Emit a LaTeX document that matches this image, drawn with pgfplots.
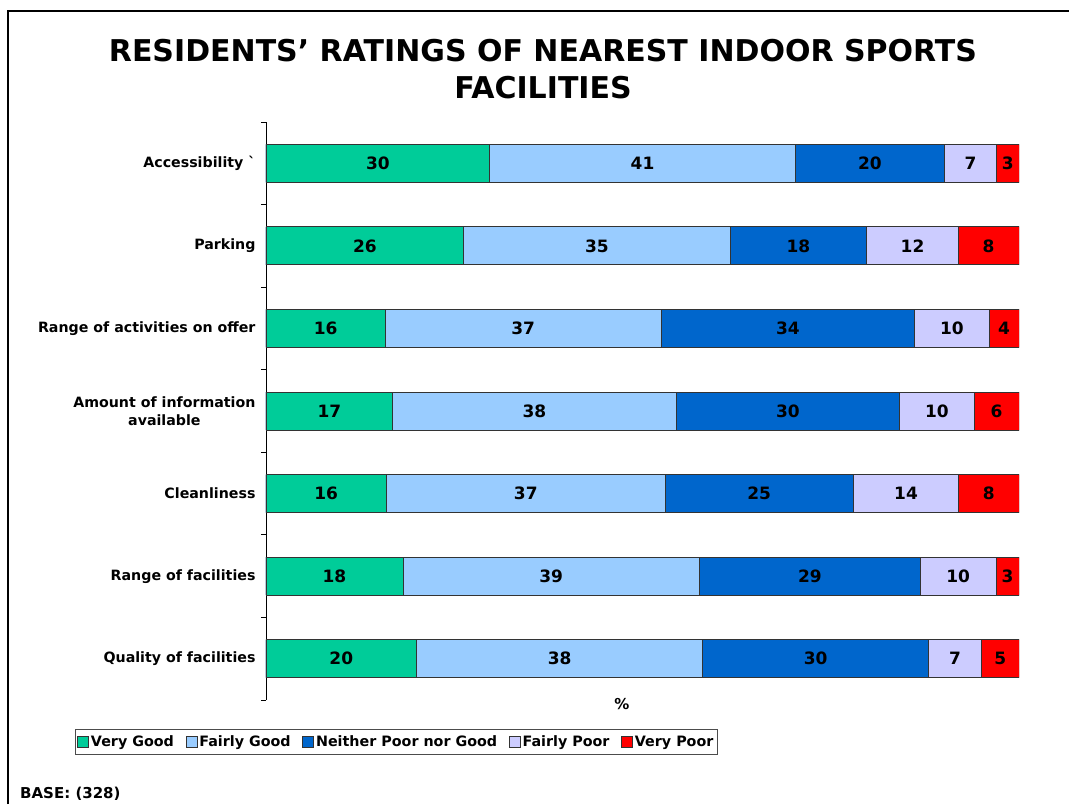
\documentclass[border=0pt]{standalone}
\usepackage{fontspec}
\setmainfont{DejaVu Sans}
\usepackage{pgfplots}
\usepackage{pgfplotstable}
\pgfplotsset{compat=1.18}
\definecolor{vgood}{HTML}{00CC99}
\definecolor{fgood}{HTML}{99CCFF}
\definecolor{neither}{HTML}{0066CC}
\definecolor{fpoor}{HTML}{CCCCFF}
\definecolor{vpoor}{HTML}{FF0000}
\definecolor{edge}{HTML}{333333}

% ratings in %, y=6 is the top bar
\pgfplotstableread{
y a b c d e
6 30 41 20 7 3
5 26 35 18 12 8
4 16 37 34 10 4
3 17 38 30 10 6
2 16 37 25 14 8
1 18 39 29 10 3
0 20 38 30 7 5
}\ratings

% each bar is drawn to 100 (rows sum to 99-101)
\newcommand{\tot}{(\thisrow{a}+\thisrow{b}+\thisrow{c}+\thisrow{d}+\thisrow{e})}

\pgfplotsset{
  seg/.style={xbar, draw=edge, line width=0.8pt, fill=#1, forget plot},
  lbl/.style={draw=none, mark=none, forget plot, nodes near coords,
    point meta=explicit symbolic,
    every node near coord/.append style={anchor=center, text=black,
      font=\fontsize{17}{20}\selectfont\bfseries}},
  sq/.style={legend image code/.code={%
    \draw[draw=edge, line width=0.8pt, fill=#1] (0pt,-5.5pt) rectangle (11pt,5.5pt);}},
}

\begin{document}
\begin{tikzpicture}
\useasboundingbox (0pt,0pt) rectangle (1069pt,-804pt);
\draw[line width=2pt] (7.5pt,-804pt) -- (7.5pt,-11pt) -- (1069pt,-11pt);

\node[anchor=base, font=\fontsize{30}{36}\selectfont\bfseries] at (543pt,-61pt)
  {RESIDENTS' RATINGS OF NEAREST INDOOR SPORTS};
\node[anchor=base, font=\fontsize{30}{36}\selectfont\bfseries] at (543pt,-98pt)
  {FACILITIES};

\begin{axis}[
  at={(266pt,-700pt)}, anchor=south west,
  scale only axis, width=753pt, height=578pt,
  xmin=0, xmax=100, ymin=-0.5, ymax=6.5,
  axis x line=none, axis y line=left,
  y axis line style={-, black, line width=0.8pt},
  ytick={0,...,6},
  yticklabels={Quality of facilities, Range of facilities, Cleanliness,
    {Amount of information\\available}, Range of activities on offer,
    Parking, Accessibility \textasciigrave},
  yticklabel style={align=center, xshift=-7pt,
    font=\fontsize{14.2}{18}\selectfont\bfseries},
  major tick length=0pt,
  minor ytick={-0.5,0.5,...,6.5}, minor tick length=5pt, tick align=outside,
  minor tick style={black, line width=0.8pt},
  bar width=38pt, bar shift=0pt,
  legend columns=5,
  legend style={at={(-0.2537,-0.0502)}, anchor=north west,
    draw=black!70, line width=0.8pt, inner xsep=2pt, inner ysep=4.5pt,
    font=\fontsize{14.3}{16}\selectfont\bfseries,
    nodes={inner sep=1.8pt},
    /tikz/every even column/.append style={column sep=10pt}},
]
\addplot[seg=vpoor]   table[y=y, x expr={(\thisrow{a}+\thisrow{b}+\thisrow{c}+\thisrow{d}+\thisrow{e})*100/\tot}] \ratings;
\addplot[seg=fpoor]   table[y=y, x expr={(\thisrow{a}+\thisrow{b}+\thisrow{c}+\thisrow{d})*100/\tot}] \ratings;
\addplot[seg=neither] table[y=y, x expr={(\thisrow{a}+\thisrow{b}+\thisrow{c})*100/\tot}] \ratings;
\addplot[seg=fgood]   table[y=y, x expr={(\thisrow{a}+\thisrow{b})*100/\tot}] \ratings;
\addplot[seg=vgood]   table[y=y, x expr={\thisrow{a}*100/\tot}] \ratings;

\addplot[lbl] table[y=y, meta=a, x expr={(\thisrow{a}/2)*100/\tot}] \ratings;
\addplot[lbl] table[y=y, meta=b, x expr={(\thisrow{a}+\thisrow{b}/2)*100/\tot}] \ratings;
\addplot[lbl] table[y=y, meta=c, x expr={(\thisrow{a}+\thisrow{b}+\thisrow{c}/2)*100/\tot}] \ratings;
\addplot[lbl] table[y=y, meta=d, x expr={(\thisrow{a}+\thisrow{b}+\thisrow{c}+\thisrow{d}/2)*100/\tot}] \ratings;
\addplot[lbl] table[y=y, meta=e, x expr={(\thisrow{a}+\thisrow{b}+\thisrow{c}+\thisrow{d}+\thisrow{e}/2)*100/\tot}] \ratings;

\addlegendimage{sq=vgood}   \addlegendentry{Very Good}
\addlegendimage{sq=fgood}   \addlegendentry{Fairly Good}
\addlegendimage{sq=neither} \addlegendentry{Neither Poor nor Good}
\addlegendimage{sq=fpoor}   \addlegendentry{Fairly Poor}
\addlegendimage{sq=vpoor}   \addlegendentry{Very Poor}
\end{axis}

\node[font=\fontsize{15}{18}\selectfont\bfseries] at (622pt,-704pt) {\%};
\node[anchor=base west, inner sep=0pt, font=\fontsize{15}{18}\selectfont\bfseries]
  at (20pt,-798pt) {BASE: (328)};
\end{tikzpicture}
\end{document}
